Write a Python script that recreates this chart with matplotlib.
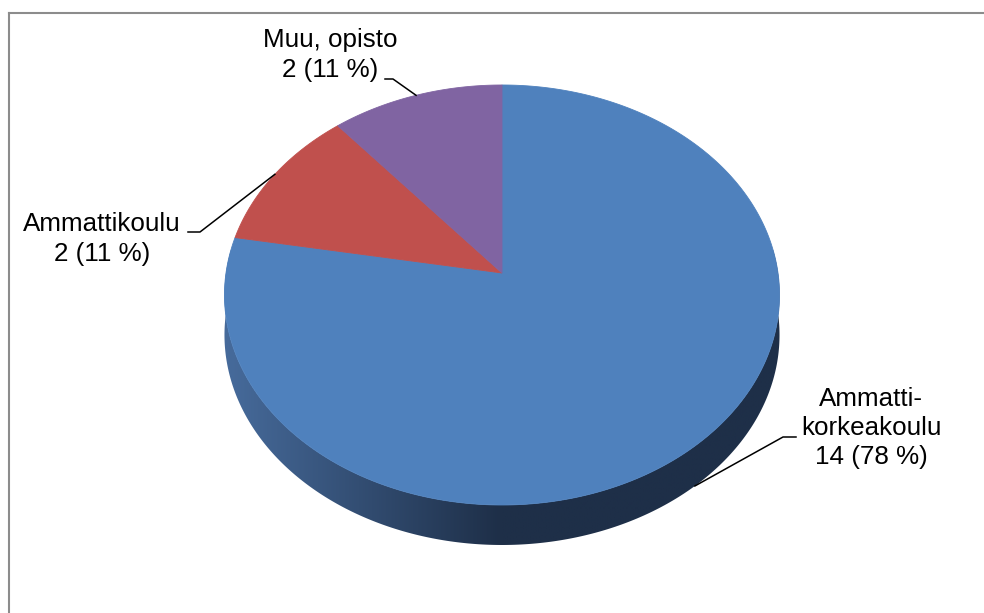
import numpy as np
import matplotlib
matplotlib.use("Agg")
from matplotlib import pyplot as plt
from matplotlib.patches import Polygon
from matplotlib.lines import Line2D

# koulutustausta
categories = ["Ammatti-\nkorkeakoulu", "Ammattikoulu", "Muu, opisto"]
counts = [14, 2, 2]
colors = ["#4f81bd", "#c0504d", "#8064a2"]

plt.rcParams['font.family'] = ['Liberation Sans', 'DejaVu Sans']

W, H = 984, 613
fig = plt.figure(figsize=(W / 100, H / 100), dpi=100)
ax = fig.add_axes([0, 0, 1, 1])
ax.set_xlim(0, W)
ax.set_ylim(H, 0)
ax.axis("off")

# pie geometry in pixels: apex, half width, half height, perspective, thickness
cx, cy = 502, 273
rx, ry = 276, 207.7
persp = 9.55
depth = 40


def edge(theta_deg, drop=0.0):
    t = np.radians(theta_deg)
    k = persp / (persp + np.cos(t))
    return cx + rx * np.sin(t) * k, cy - ry * np.cos(t) * k + drop


# side of the disk: horizontal shading clipped to the rim outline
angs = np.linspace(80, 280, 300)
upper = [edge(a) for a in angs]
lower = [edge(a, depth) for a in angs[::-1]]
rim = Polygon(upper + lower, closed=True, fc="none", ec="none")
ax.add_patch(rim)

light = np.array([70, 106, 154]) / 255
dark = np.array([30, 47, 72]) / 255
xs = np.linspace(215, 790, 300)
f = np.clip((xs - 230) / 270, 0, 1)[:, None]
shade = (light * (1 - f) + dark * f)[None, :, :]
img = ax.imshow(shade, extent=(215, 790, 560, 250), aspect="auto",
                interpolation="bilinear", zorder=1)
img.set_clip_path(rim)

# top face: slices clockwise from twelve o'clock
total = sum(counts)
start = 0.0
mids = []
for n, col in zip(counts, colors):
    span = 360.0 * n / total
    a = np.linspace(start, start + span, max(int(span * 2), 8))
    pts = [(cx, cy)] + [edge(v) for v in a]
    ax.add_patch(Polygon(pts, closed=True, fc=col, ec=col, lw=0.6, zorder=2))
    mids.append(start + span / 2)
    start += span

# data labels with leader lines
label_pos = [(871, 428), (102, 239), (330, 55)]
knees = [(796, 437), (188, 232), (385, 79)]
knees2 = [(783, 437), (200, 232), (393, 79)]
for name, n, mid, (tx, ty), k1, k2 in zip(categories, counts, mids,
                                          label_pos, knees, knees2):
    pct = round(100 * n / total)
    ax.text(tx, ty, "%s\n%d (%d %%)" % (name, n, pct), ha="center",
            va="center", fontsize=18.7, color="black", linespacing=1.28,
            zorder=4)
    drop = depth if 90 < mid < 270 else 0
    ex, ey = edge(mid, drop)
    ax.add_line(Line2D([k1[0], k2[0], ex], [k1[1], k2[1], ey],
                       color="black", lw=1.1, zorder=3))

# chart area border
border = "#8c8c8c"
ax.add_line(Line2D([8.5, W], [12.5, 12.5], color=border, lw=1.5))
ax.add_line(Line2D([8.5, 8.5], [12.5, H], color=border, lw=1.5))

fig.savefig("out.png", dpi=100)
